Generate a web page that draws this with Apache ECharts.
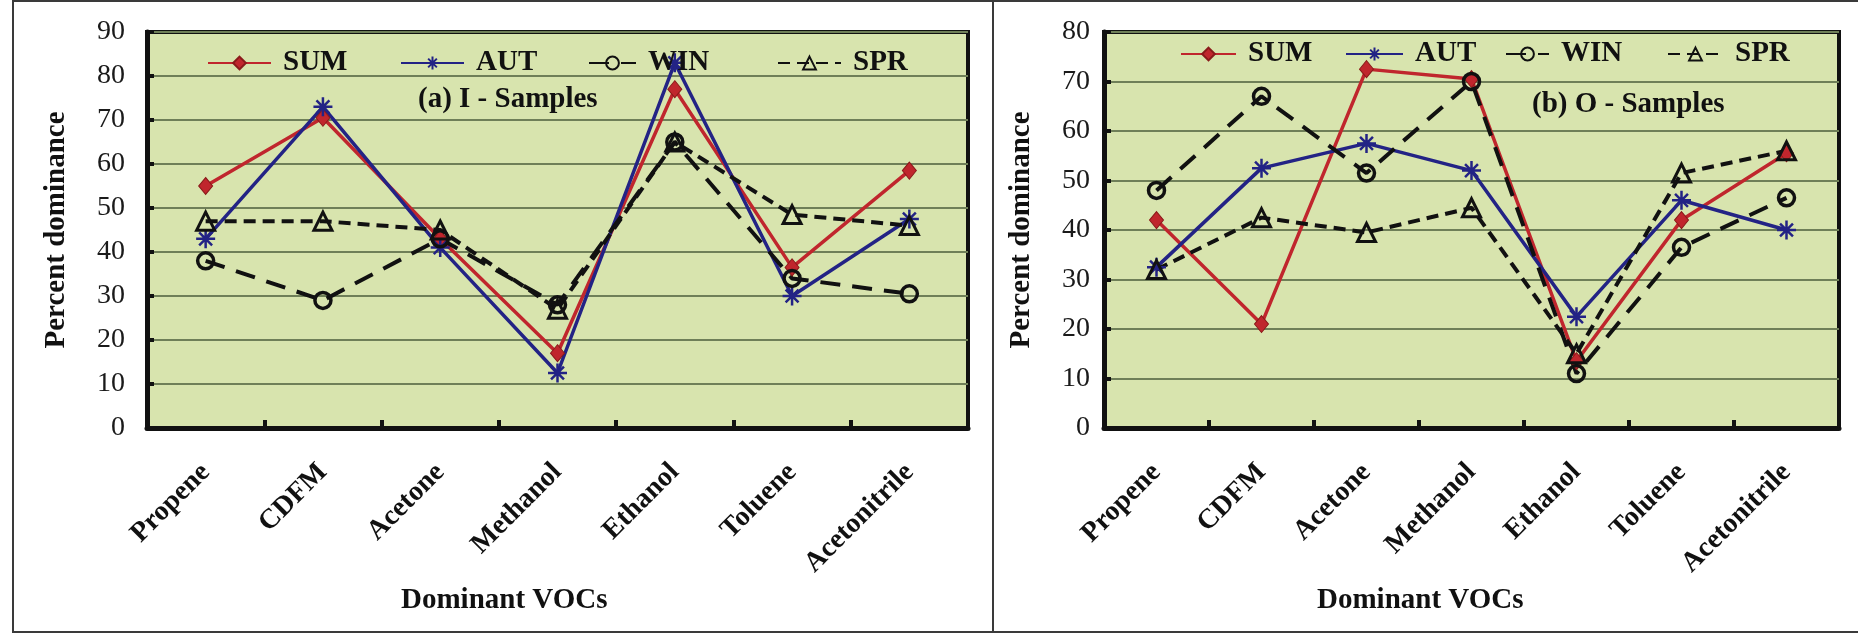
<!DOCTYPE html>
<html>
<head>
<meta charset="utf-8">
<script src="https://cdn.jsdelivr.net/npm/echarts@6/dist/echarts.min.js"></script>
<style>
html,body{margin:0;padding:0;background:#fff;}
#chart{width:1858px;height:634px;}
</style>
</head>
<body>
<div id="chart"></div>
<script>
// ---- data ----
var categories = ['Propene', 'CDFM', 'Acetone', 'Methanol', 'Ethanol', 'Toluene', 'Acetonitrile'];
var seriesNames = ['SUM', 'AUT', 'WIN', 'SPR'];

// (a) I - Samples
var iSUM = [55, 70.5, 43, 17, 77, 36.5, 58.5];
var iAUT = [43, 73, 41, 12.5, 83, 30, 47.5];
var iWIN = [38, 29, 43, 28, 65, 34, 30.5];
var iSPR = [47, 47, 45, 27, 65, 48.5, 46];

// (b) O - Samples
var oSUM = [42, 21, 72.5, 70.5, 13.5, 42, 55.5];
var oAUT = [32.5, 52.5, 57.5, 52, 22.5, 46, 40];
var oWIN = [48, 67, 51.5, 70, 11, 36.5, 46.5];
var oSPR = [32, 42.5, 39.5, 44.5, 15, 51.5, 56];

var yTicksLeft = {min: 0, max: 90, interval: 10};
var yTicksRight = {min: 0, max: 80, interval: 10};

// ---- styles ----
var FONT = "'Liberation Serif', 'DejaVu Serif', serif";
var RED = '#C0262D';
var BLUE = '#232385';
var BLACK = '#111111';
var STAR = 'path://M0,5L10,5M5,0L5,10M1.6,1.6L8.4,8.4M8.4,1.6L1.6,8.4';

function makeSeries(name, data, gi) {
  var s = {
    name: name, type: 'line', data: data,
    xAxisIndex: gi, yAxisIndex: gi,
    z: 3
  };
  if (name === 'SUM') {
    s.symbol = 'diamond'; s.symbolSize = [14, 17];
    s.lineStyle = {color: RED, width: 3.5};
    s.itemStyle = {color: RED, borderColor: '#8a1a1a', borderWidth: 1};
  } else if (name === 'AUT') {
    s.symbol = STAR; s.symbolSize = 19;
    s.lineStyle = {color: BLUE, width: 3.5};
    s.itemStyle = {color: BLUE, borderColor: BLUE, borderWidth: 2.5};
  } else if (name === 'WIN') {
    s.symbol = 'circle'; s.symbolSize = 16;
    s.lineStyle = {color: BLACK, width: 4, type: [20, 12]};
    s.itemStyle = {color: 'rgba(0,0,0,0)', borderColor: BLACK, borderWidth: 3.5};
  } else {
    s.symbol = 'triangle'; s.symbolSize = 18;
    s.lineStyle = {color: BLACK, width: 4, type: [12, 7]};
    s.itemStyle = {color: 'rgba(0,0,0,0)', borderColor: BLACK, borderWidth: 3};
  }
  return s;
}

function makeLegend(name, left, top, iw) {
  return {
    data: [name], left: left, top: top, orient: 'horizontal',
    padding: 0, itemWidth: iw, itemHeight: 16, itemGap: 0,
    selectedMode: false,
    textStyle: {fontFamily: FONT, fontWeight: 'bold', fontSize: 29, color: BLACK, lineHeight: 30, padding: [0, 0, 0, 7]}
  };
}

function makeXAxis(gi) {
  return {
    type: 'category', gridIndex: gi, data: categories, boundaryGap: true,
    axisLine: {show: true, lineStyle: {color: BLACK, width: 5}},
    axisTick: {show: true, inside: true, length: 8, lineStyle: {color: BLACK, width: 4}},
    axisLabel: {rotate: 45, margin: 40, fontFamily: FONT, fontWeight: 'bold', fontSize: 28, color: BLACK, interval: 0},
    splitLine: {show: false}
  };
}

function makeYAxis(gi, t, gap, nameGap) {
  return {
    type: 'value', gridIndex: gi, min: t.min, max: t.max, interval: t.interval,
    name: 'Percent dominance', nameLocation: 'middle', nameGap: nameGap, nameRotate: 90,
    nameTextStyle: {fontFamily: FONT, fontWeight: 'bold', fontSize: 29, color: BLACK},
    axisLine: {show: true, lineStyle: {color: BLACK, width: 5}},
    axisTick: {show: true, inside: true, length: 7, lineStyle: {color: BLACK, width: 4}},
    axisLabel: {margin: gap, fontFamily: FONT, fontSize: 28, color: '#1a1a1a'},
    splitLine: {show: true, lineStyle: {color: '#6F7F58', width: 2}}
  };
}

var chart = echarts.init(document.getElementById('chart'), null, {renderer: 'canvas'});

var option = {
  backgroundColor: '#ffffff',
  animation: false,
  grid: [
    {left: 147, top: 32, width: 821, height: 396, show: true, backgroundColor: '#D8E4AE', borderColor: BLACK, borderWidth: 4, containLabel: false},
    {left: 1104, top: 32, width: 735, height: 396, show: true, backgroundColor: '#D8E4AE', borderColor: BLACK, borderWidth: 4, containLabel: false}
  ],
  xAxis: [makeXAxis(0), makeXAxis(1)],
  yAxis: [makeYAxis(0, yTicksLeft, 22, 76), makeYAxis(1, yTicksRight, 14, 68)],
  legend: [
    makeLegend('SUM', 207, 48, 63),
    makeLegend('AUT', 400, 48, 63),
    makeLegend('WIN', 588, 48, 47),
    makeLegend('SPR', 777, 48, 63),
    makeLegend('SUM', 1180, 39, 55),
    makeLegend('AUT', 1345, 39, 57),
    makeLegend('WIN', 1505, 39, 43),
    makeLegend('SPR', 1667, 39, 55)
  ],
  series: [
    makeSeries('SUM', iSUM, 0), makeSeries('AUT', iAUT, 0), makeSeries('WIN', iWIN, 0), makeSeries('SPR', iSPR, 0),
    makeSeries('SUM', oSUM, 1), makeSeries('AUT', oAUT, 1), makeSeries('WIN', oWIN, 1), makeSeries('SPR', oSPR, 1)
  ],
  graphic: [
    {type: 'rect', shape: {x: 13, y: 1, width: 1900, height: 631}, style: {fill: 'none', stroke: '#3a3a3a', lineWidth: 2}, z: 0, silent: true},
    {type: 'line', shape: {x1: 993, y1: 1, x2: 993, y2: 632}, style: {stroke: '#3a3a3a', lineWidth: 2}, z: 0, silent: true},
    {type: 'text', left: 418, top: 85, z: 10, style: {text: '(a) I - Samples', fontFamily: FONT, fontWeight: 'bold', fontSize: 29, fill: BLACK}},
    {type: 'text', left: 1532, top: 90, z: 10, style: {text: '(b) O - Samples', fontFamily: FONT, fontWeight: 'bold', fontSize: 29, fill: BLACK}},
    {type: 'text', left: 401, top: 586, z: 10, style: {text: 'Dominant VOCs', fontFamily: FONT, fontWeight: 'bold', fontSize: 29, fill: BLACK}},
    {type: 'text', left: 1317, top: 586, z: 10, style: {text: 'Dominant VOCs', fontFamily: FONT, fontWeight: 'bold', fontSize: 29, fill: BLACK}}
  ]
};
chart.setOption(option);
</script>
</body>
</html>
